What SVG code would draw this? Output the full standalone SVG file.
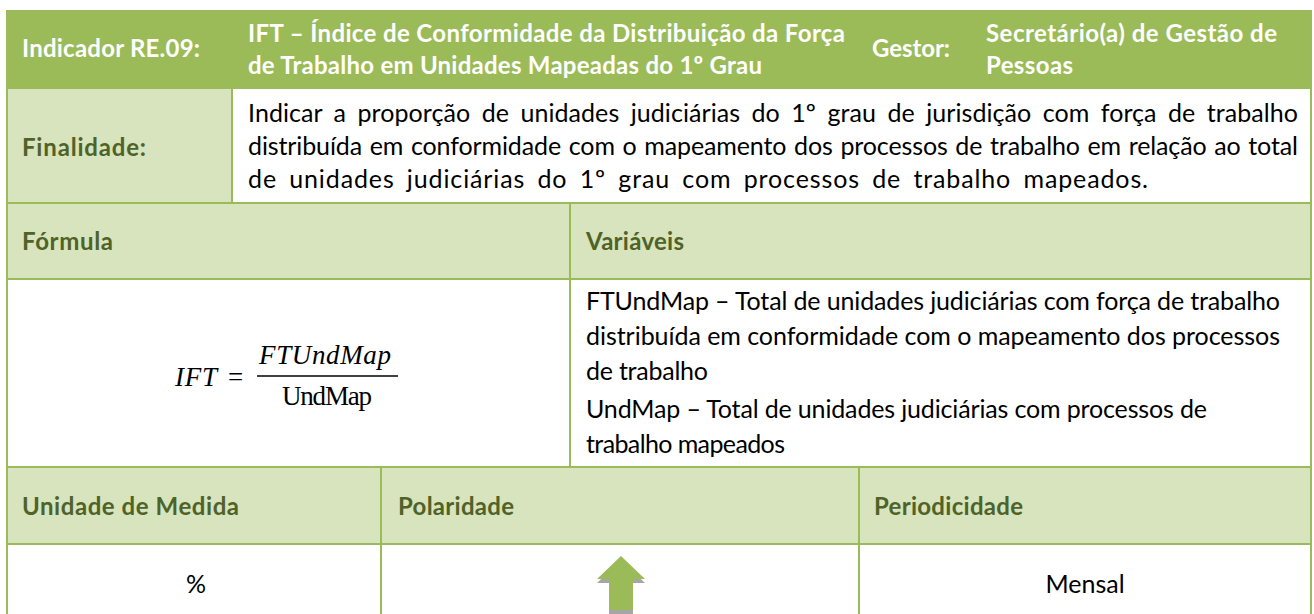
<svg xmlns="http://www.w3.org/2000/svg" width="1314" height="614" viewBox="0 0 1314 614">
<defs>
<style>
.t{font-family:Lato,"Liberation Sans",sans-serif;font-size:25px;fill:#000}
.h{font-family:Lato,"Liberation Sans",sans-serif;font-size:24px;font-weight:bold;fill:#fff}
.l{font-family:Lato,"Liberation Sans",sans-serif;font-size:24px;font-weight:bold;fill:#4f6228}
.m{font-family:"Liberation Serif",serif;font-size:27px;fill:#000}
.g{stroke:#9bbb59;stroke-width:2;fill:none}
</style>
</defs>
<rect width="1314" height="614" fill="#fff"/>
<g id="cells">
<rect x="6" y="10" width="1305" height="78" fill="#9bbb59"/>
<rect x="6" y="88" width="226" height="115" fill="#d7e4bd"/>
<rect x="6" y="203" width="1305" height="76" fill="#d7e4bd"/>
<rect x="6" y="467" width="1305" height="77" fill="#d7e4bd"/>
</g>
<g id="grid">
<path class="g" d="M7 10V614M1311 10V614M6 88H1312M6 203H1312M6 279H1312M6 467H1312M6 544H1312M232 88V203M570 203V467M381 467V614M859 467V614"/>
</g>
<g id="header">
<text class="h" x="22" y="57" textLength="178">Indicador RE.09:</text>
<text class="h" x="248" y="42" textLength="597">IFT – Índice de Conformidade da Distribuição da Força</text>
<text class="h" x="248" y="74" textLength="514">de Trabalho em Unidades Mapeadas do 1º Grau</text>
<text class="h" x="872" y="57" textLength="78">Gestor:</text>
<text class="h" x="986" y="42" textLength="291">Secretário(a) de Gestão de</text>
<text class="h" x="986" y="74" textLength="87">Pessoas</text>
</g>
<g id="finalidade">
<text class="l" x="22" y="156" textLength="124">Finalidade:</text>
<text class="t" x="248" y="122" word-spacing="5" textLength="1050">Indicar a proporção de unidades judiciárias do 1º grau de jurisdição com força de trabalho</text>
<text class="t" x="248" y="155" word-spacing="1.4" textLength="1050">distribuída em conformidade com o mapeamento dos processos de trabalho em relação ao total</text>
<text class="t" x="248" y="188" word-spacing="5" textLength="900">de unidades judiciárias do 1º grau com processos de trabalho mapeados.</text>
</g>
<g id="formula-header">
<text class="l" x="22" y="250" textLength="91">Fórmula</text>
<text class="l" x="586" y="250" textLength="98">Variáveis</text>
</g>
<g id="formula">
<text class="m" x="175" y="386" font-style="italic" textLength="42">IFT</text>
<text class="m" x="228" y="386" textLength="21">=</text>
<text class="m" x="259" y="364" font-style="italic" textLength="132">FTUndMap</text>
<line x1="257" y1="376" x2="398" y2="376" stroke="#000" stroke-width="1.5"/>
<text class="m" x="282" y="405" font-size="24" textLength="90">UndMap</text>
</g>
<g id="variaveis">
<text class="t" x="586" y="310" textLength="694">FTUndMap – Total de unidades judiciárias com força de trabalho</text>
<text class="t" x="586" y="345" textLength="694">distribuída em conformidade com o mapeamento dos processos</text>
<text class="t" x="586" y="380" textLength="122">de trabalho</text>
<text class="t" x="586" y="418" textLength="621">UndMap – Total de unidades judiciárias com processos de</text>
<text class="t" x="586" y="453" textLength="199">trabalho mapeados</text>
</g>
<g id="bottom-header">
<text class="l" x="22" y="515" textLength="217">Unidade de Medida</text>
<text class="l" x="398" y="515" textLength="116">Polaridade</text>
<text class="l" x="874" y="515" textLength="149">Periodicidade</text>
</g>
<g id="bottom-values">
<text class="t" x="196" y="593" text-anchor="middle">%</text>
<text class="t" x="1085" y="593" text-anchor="middle">Mensal</text>
<polygon points="621,560 645,583 633,583 633,614 609,614 609,583 597,583" fill="#a6a6a6"/>
<polygon points="621,556 645,579 633,579 633,610 609,610 609,579 597,579" fill="#9bbb59"/>
</g>
</svg>
